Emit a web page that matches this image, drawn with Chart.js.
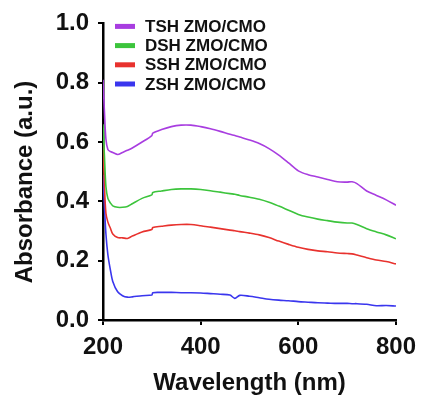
<!DOCTYPE html>
<html>
<head>
<meta charset="utf-8">
<script src="https://cdn.jsdelivr.net/npm/chart.js@4/dist/chart.umd.min.js"></script>
<style>
  html, body { margin: 0; padding: 0; background: #fff; }
  #wrap { width: 424px; height: 400px; }
</style>
</head>
<body>
<div id="wrap"><canvas id="absChart"></canvas></div>
<script>
// Data
const wavelengths = [200, 203, 206, 210, 215, 220, 230, 240, 250, 260, 280, 300, 302, 320, 340, 360, 380, 400, 420, 440, 460, 470, 480, 500, 520, 540, 560, 580, 600, 620, 640, 660, 680, 700, 710, 720, 740, 760, 780, 800];
const tshValues = [0.81, 0.70, 0.61, 0.575, 0.568, 0.565, 0.558, 0.565, 0.572, 0.58, 0.60, 0.622, 0.630, 0.642, 0.652, 0.657, 0.657, 0.652, 0.645, 0.636, 0.626, 0.622, 0.617, 0.607, 0.595, 0.578, 0.556, 0.53, 0.503, 0.49, 0.482, 0.474, 0.466, 0.465, 0.466, 0.46, 0.435, 0.42, 0.405, 0.387];
const dshValues = [0.66, 0.55, 0.45, 0.41, 0.395, 0.385, 0.38, 0.38, 0.383, 0.392, 0.41, 0.422, 0.43, 0.435, 0.44, 0.442, 0.442, 0.44, 0.436, 0.431, 0.426, 0.424, 0.42, 0.414, 0.407, 0.397, 0.384, 0.37, 0.356, 0.347, 0.34, 0.335, 0.33, 0.327, 0.327, 0.322, 0.308, 0.297, 0.287, 0.274];
const sshValues = [0.60, 0.45, 0.36, 0.33, 0.31, 0.29, 0.278, 0.277, 0.275, 0.283, 0.297, 0.305, 0.312, 0.316, 0.32, 0.322, 0.322, 0.318, 0.313, 0.308, 0.303, 0.301, 0.298, 0.293, 0.287, 0.278, 0.266, 0.255, 0.245, 0.238, 0.233, 0.23, 0.226, 0.224, 0.223, 0.219, 0.21, 0.202, 0.197, 0.189];
const zshValues = [0.49, 0.38, 0.29, 0.22, 0.17, 0.13, 0.095, 0.082, 0.077, 0.078, 0.082, 0.084, 0.092, 0.093, 0.093, 0.092, 0.092, 0.091, 0.089, 0.087, 0.084, 0.073, 0.083, 0.08, 0.075, 0.07, 0.067, 0.065, 0.062, 0.06, 0.058, 0.057, 0.056, 0.056, 0.055, 0.055, 0.053, 0.048, 0.049, 0.047];
const seriesLabels = ['TSH ZMO/CMO', 'DSH ZMO/CMO', 'SSH ZMO/CMO', 'ZSH ZMO/CMO'];
const seriesColors = ['#a83de0', '#3cc43c', '#e8322e', '#3a36ee'];
const xTicks = [200, 400, 600, 800];
const yTicks = [0, 0.2, 0.4, 0.6, 0.8, 1.0];
const yTitle = 'Absorbance (a.u.)';

const allValues = [tshValues, dshValues, sshValues, zshValues];
const fontFamily = '"Liberation Sans", Arial, sans-serif';

function toPoints(values) {
    return wavelengths.map((w, i) => ({ x: w, y: values[i] }));
}

// Legend drawn inside the plot, top left
const insideLegend = {
    id: 'insideLegend',
    afterDraw(chart) {
        const c = chart.ctx;
        const left = chart.chartArea.left + 12;
        const top = chart.chartArea.top + 3;
        c.save();
        c.font = 'bold 17px ' + fontFamily;
        c.textBaseline = 'middle';
        chart.data.datasets.forEach((ds, i) => {
            const y = top + i * 19.2;
            c.fillStyle = ds.borderColor;
            c.fillRect(left, y - 2.5, 20, 5);
            c.fillStyle = '#111';
            c.fillText(ds.label, left + 30, y + 1);
        });
        c.restore();
    }
};

// Y axis title sits a little below the axis middle in the original
const yAxisTitle = {
    id: 'yAxisTitle',
    afterDraw(chart) {
        const c = chart.ctx;
        c.save();
        c.translate(25, 182);
        c.rotate(-Math.PI / 2);
        c.font = 'bold 24px ' + fontFamily;
        c.fillStyle = '#111';
        c.textAlign = 'center';
        c.textBaseline = 'middle';
        c.fillText(yTitle, 0, 0);
        c.restore();
    }
};

const ctx = document.getElementById('absChart').getContext('2d');
const absChart = new Chart(ctx, {
    type: 'line',
    data: {
        datasets: allValues.map((vals, i) => ({
            label: seriesLabels[i],
            data: toPoints(vals),
            borderColor: seriesColors[i],
            borderWidth: 1.6,
            pointRadius: 0,
            tension: 0.3,
            fill: false
        }))
    },
    plugins: [insideLegend, yAxisTitle],
    options: {
        responsive: true,
        maintainAspectRatio: false,
        animation: false,
        layout: {
            padding: { top: 21, right: 24, left: 0, bottom: 0 }
        },
        plugins: {
            legend: { display: false },
            tooltip: { enabled: false }
        },
        scales: {
            x: {
                type: 'linear',
                min: 200,
                max: 800,
                afterBuildTicks: (scale) => { scale.ticks = xTicks.map(v => ({ value: v })); },
                afterFit: (scale) => { scale.height = 80; },
                border: { display: true, color: '#000', width: 2.5 },
                grid: { drawOnChartArea: false, drawTicks: true, tickLength: 5, color: '#000', lineWidth: 2 },
                ticks: {
                    color: '#111',
                    padding: 8,
                    maxRotation: 0,
                    font: { family: fontFamily, size: 24, weight: 'bold' }
                },
                title: {
                    display: true,
                    text: 'Wavelength (nm)',
                    color: '#111',
                    padding: { top: 0, bottom: 2 },
                    font: { family: fontFamily, size: 24, weight: 'bold' }
                }
            },
            y: {
                min: 0,
                max: 1.0,
                afterBuildTicks: (scale) => { scale.ticks = yTicks.map(v => ({ value: v })); },
                afterFit: (scale) => { scale.width = 103; },
                border: { display: true, color: '#000', width: 2.5 },
                grid: { drawOnChartArea: false, drawTicks: true, tickLength: 5, color: '#000', lineWidth: 2 },
                ticks: {
                    color: '#111',
                    padding: 9,
                    callback: (v) => v.toFixed(1),
                    font: { family: fontFamily, size: 24, weight: 'bold' }
                }
            }
        }
    }
});
</script>
</body>
</html>
